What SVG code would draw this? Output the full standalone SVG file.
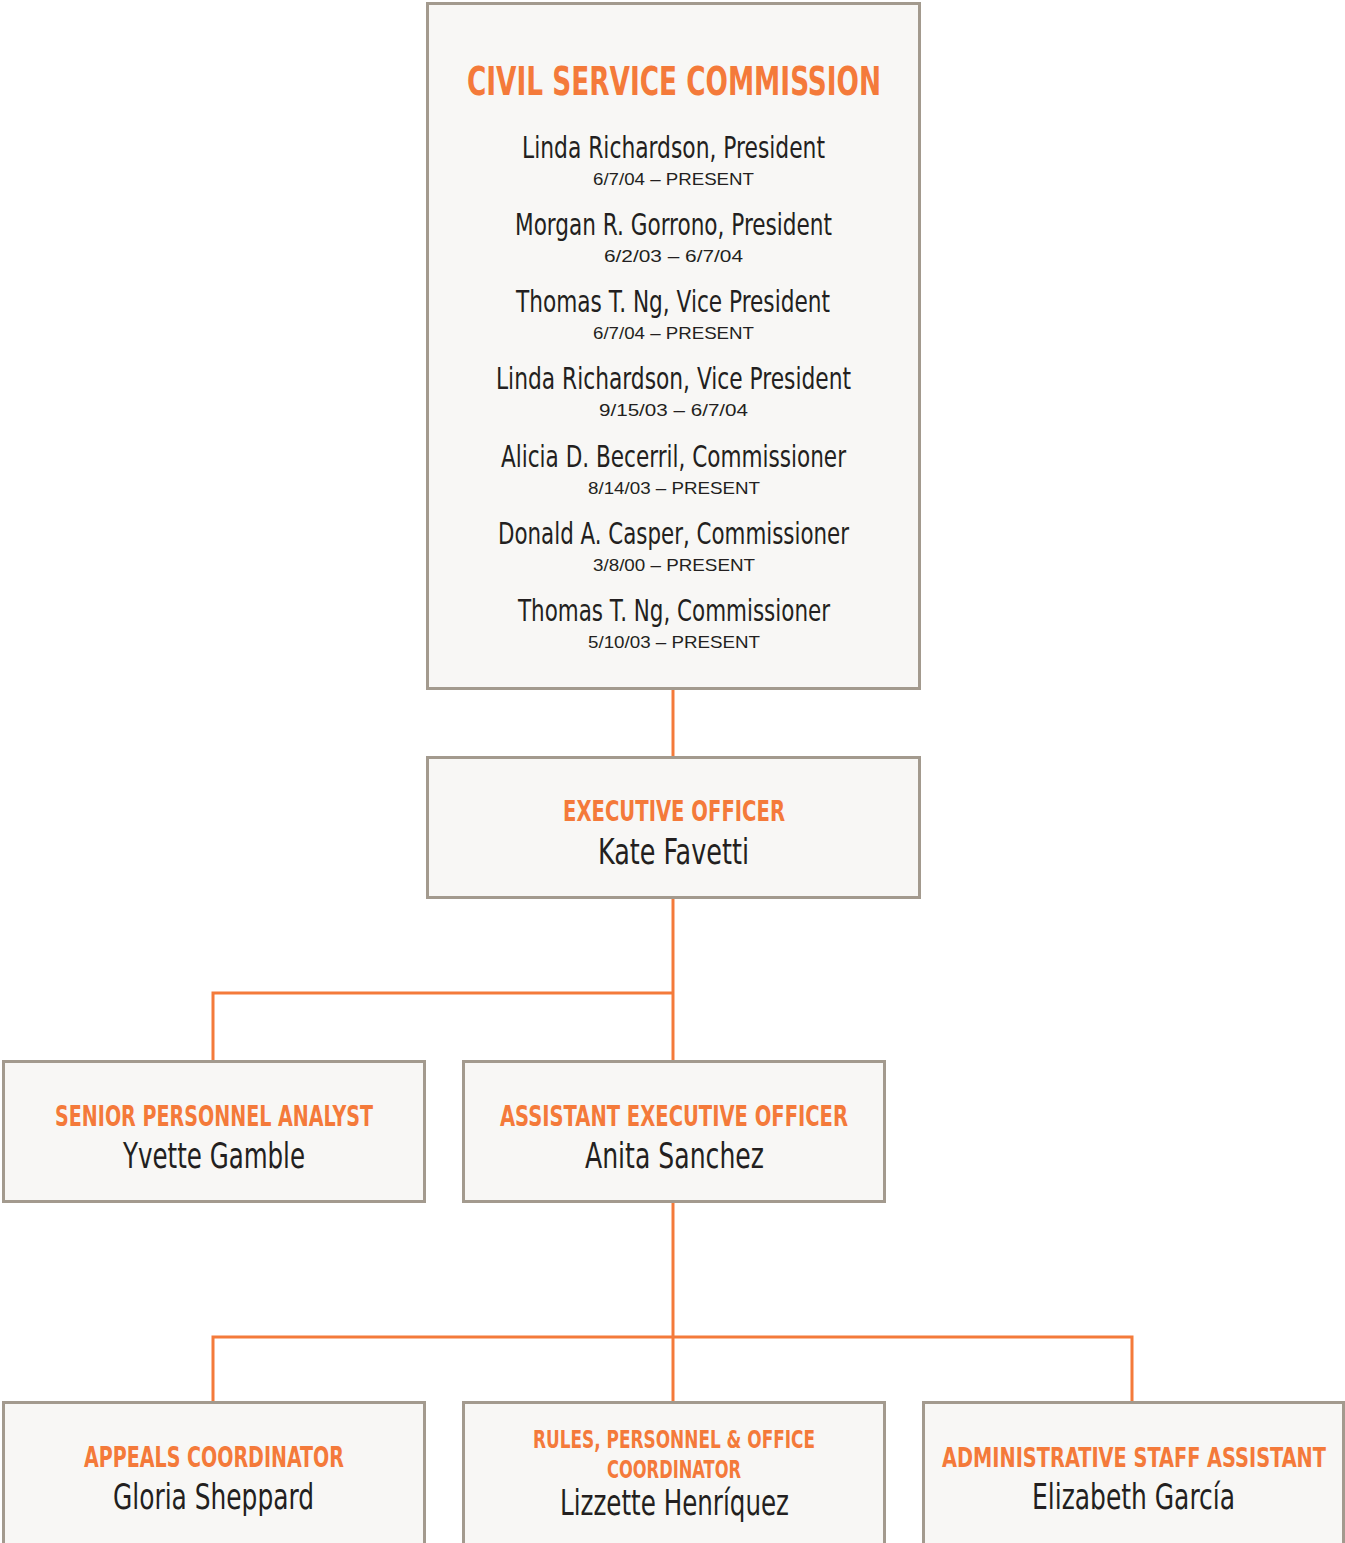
<svg xmlns="http://www.w3.org/2000/svg" width="1345" height="1543" viewBox="0 0 1345 1543">
<style>
.box{fill:#f8f7f5;stroke:#a39a8e;stroke-width:3}
.con{fill:none;stroke:#f47a3a;stroke-width:3}
.t{font-family:"Liberation Sans Narrow","DejaVu Sans Condensed","Liberation Sans",sans-serif;font-weight:bold;fill:#f47a3a;text-anchor:middle}
.n{font-family:"Liberation Sans Narrow","DejaVu Sans Condensed","Liberation Sans",sans-serif;fill:#231f20;text-anchor:middle}
.d{font-family:"Liberation Sans","Arial",sans-serif;fill:#231f20;text-anchor:middle;font-size:17px}
</style>
<rect width="1345" height="1543" fill="#ffffff"/>
<g id="connectors">
<path class="con" d="M673 689V756"/>
<path class="con" d="M673 897V1060"/>
<path class="con" d="M213 1060V993H673"/>
<path class="con" d="M673 1202V1401"/>
<path class="con" d="M213 1401V1337H1132V1401"/>
</g>
<g id="commission">
<rect class="box" x="427.5" y="3.5" width="492" height="685"/>
<text class="t" x="674" y="95" font-size="39" textLength="414" lengthAdjust="spacingAndGlyphs">CIVIL SERVICE COMMISSION</text>
<text class="n" x="673.5" y="158" font-size="31" textLength="303" lengthAdjust="spacingAndGlyphs">Linda Richardson, President</text>
<text class="d" x="673.5" y="185" textLength="161" lengthAdjust="spacingAndGlyphs">6/7/04 – PRESENT</text>
<text class="n" x="673.5" y="235" font-size="31" textLength="317" lengthAdjust="spacingAndGlyphs">Morgan R. Gorrono, President</text>
<text class="d" x="673.5" y="262" textLength="139" lengthAdjust="spacingAndGlyphs">6/2/03 – 6/7/04</text>
<text class="n" x="673" y="312" font-size="31" textLength="314" lengthAdjust="spacingAndGlyphs">Thomas T. Ng, Vice President</text>
<text class="d" x="673.5" y="339" textLength="161" lengthAdjust="spacingAndGlyphs">6/7/04 – PRESENT</text>
<text class="n" x="673.5" y="389" font-size="31" textLength="355" lengthAdjust="spacingAndGlyphs">Linda Richardson, Vice President</text>
<text class="d" x="673.5" y="416" textLength="149" lengthAdjust="spacingAndGlyphs">9/15/03 – 6/7/04</text>
<text class="n" x="673.5" y="467" font-size="31" textLength="345" lengthAdjust="spacingAndGlyphs">Alicia D. Becerril, Commissioner</text>
<text class="d" x="674" y="494" textLength="172" lengthAdjust="spacingAndGlyphs">8/14/03 – PRESENT</text>
<text class="n" x="673.5" y="544" font-size="31" textLength="351" lengthAdjust="spacingAndGlyphs">Donald A. Casper, Commissioner</text>
<text class="d" x="674" y="571" textLength="162" lengthAdjust="spacingAndGlyphs">3/8/00 – PRESENT</text>
<text class="n" x="674" y="621" font-size="31" textLength="312" lengthAdjust="spacingAndGlyphs">Thomas T. Ng, Commissioner</text>
<text class="d" x="674" y="648" textLength="172" lengthAdjust="spacingAndGlyphs">5/10/03 – PRESENT</text>
</g>
<g id="executive">
<rect class="box" x="427.5" y="757.5" width="492" height="140"/>
<text class="t" x="674" y="821" font-size="28" textLength="222" lengthAdjust="spacingAndGlyphs">EXECUTIVE OFFICER</text>
<text class="n" x="673.5" y="864" font-size="36" textLength="151" lengthAdjust="spacingAndGlyphs">Kate Favetti</text>
</g>
<g id="senior">
<rect class="box" x="3.5" y="1061.5" width="421" height="140"/>
<text class="t" x="214" y="1126" font-size="28" textLength="318" lengthAdjust="spacingAndGlyphs">SENIOR PERSONNEL ANALYST</text>
<text class="n" x="214" y="1168" font-size="36" textLength="182" lengthAdjust="spacingAndGlyphs">Yvette Gamble</text>
</g>
<g id="assistant">
<rect class="box" x="463.5" y="1061.5" width="421" height="140"/>
<text class="t" x="674" y="1126" font-size="28" textLength="348" lengthAdjust="spacingAndGlyphs">ASSISTANT EXECUTIVE OFFICER</text>
<text class="n" x="674.5" y="1168" font-size="36" textLength="179" lengthAdjust="spacingAndGlyphs">Anita Sanchez</text>
</g>
<g id="appeals">
<rect class="box" x="3.5" y="1402.5" width="421" height="142"/>
<text class="t" x="214" y="1467" font-size="28" textLength="260" lengthAdjust="spacingAndGlyphs">APPEALS COORDINATOR</text>
<text class="n" x="213.5" y="1509" font-size="36" textLength="201" lengthAdjust="spacingAndGlyphs">Gloria Sheppard</text>
</g>
<g id="rules">
<rect class="box" x="463.5" y="1402.5" width="421" height="142"/>
<text class="t" x="674" y="1448" font-size="25" textLength="282" lengthAdjust="spacingAndGlyphs">RULES, PERSONNEL &amp; OFFICE</text>
<text class="t" x="674" y="1478" font-size="25" textLength="134" lengthAdjust="spacingAndGlyphs">COORDINATOR</text>
<text class="n" x="674.5" y="1515" font-size="36" textLength="229" lengthAdjust="spacingAndGlyphs">Lizzette Henríquez</text>
</g>
<g id="admin">
<rect class="box" x="923.5" y="1402.5" width="420" height="142"/>
<text class="t" x="1134" y="1467" font-size="26" textLength="384" lengthAdjust="spacingAndGlyphs">ADMINISTRATIVE STAFF ASSISTANT</text>
<text class="n" x="1133.5" y="1509" font-size="36" textLength="203" lengthAdjust="spacingAndGlyphs">Elizabeth García</text>
</g>
</svg>
